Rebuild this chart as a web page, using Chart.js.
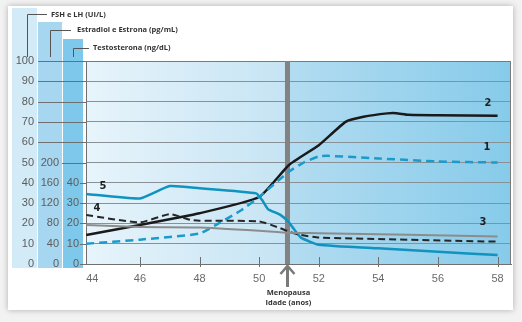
<!DOCTYPE html>
<html>
<head>
<meta charset="utf-8">
<script src="https://cdn.jsdelivr.net/npm/chart.js@4.4.1/dist/chart.umd.min.js"></script>
<style>
  html, body { margin: 0; padding: 0; background: #f2f2f2; }
  #wrap { position: relative; width: 522px; height: 322px; overflow: hidden; }
  #card { position: absolute; left: 8px; top: 6px; width: 505px; height: 304px; background: #fff;
          box-shadow: 0 0 6px rgba(0,0,0,0.28); }
  #c { position: absolute; left: 0; top: 0; }
</style>
</head>
<body>
<div id="wrap">
  <div id="card"></div>
  <canvas id="c" width="522" height="322"></canvas>
</div>
<script>
// ---- Data (age in years, values on the FSH/LH 0-100 scale) ----
const xTicks = [44, 46, 48, 50, 52, 54, 56, 58];
const menopauseAge = 50.95;

const ages1 = [44.2, 46, 48, 48.7, 49.4, 50, 51, 51.5, 52, 52.3, 54, 56, 58];
const series1 = [10, 12, 15, 20.5, 26.5, 33, 45.5, 50, 53, 53.3, 52, 50.5, 50];

const ages2 = [44.2, 46, 48, 50, 51, 52, 52.9, 53.5, 54.3, 54.6, 55, 56, 58];
const series2 = [14.3, 19.2, 25, 33, 48.8, 58.5, 70, 72.5, 74.2, 74.3, 73.5, 73.3, 73];

const ages3 = [44.2, 46, 48, 50, 51, 52, 58];
const series3 = [19.2, 18.2, 18, 16.4, 15.4, 15.2, 13.5];

const ages4 = [44.2, 46, 47, 47.7, 48, 50, 50.7, 51, 51.4, 52, 58];
const series4 = [24.1, 20.5, 24.6, 21.7, 21.3, 21, 17.7, 15.9, 14.3, 13, 11];

const ages5 = [44.2, 46, 47, 48, 49.9, 50.1, 50.3, 50.7, 51, 51.2, 51.4, 52, 54, 56, 58];
const series5 = [34.5, 32.3, 38.4, 37.3, 34.8, 31.5, 27, 24.3, 20.5, 16.5, 13, 9.5, 7.7, 6, 4.4];

// left axis columns
const fshTicks = [0, 10, 20, 30, 40, 50, 60, 70, 80, 90, 100];
const estrTicks = [0, 40, 80, 120, 160, 200];   // drawn at 0..50
const testoTicks = [0, 10, 20, 30, 40];          // drawn at 0..40

// curve number tags
const tagText = ['1', '2', '3', '4', '5'];
const tagAge = [57.64, 57.68, 57.51, 44.56, 44.76];
const tagVal = [57.6, 79.3, 20.7, 27.6, 38.4];

const pts = (xs, ys) => xs.map((x, i) => ({ x, y: ys[i] }));

const NUM_FONT = '11px "Liberation Sans", Arial, sans-serif';

// ---- Custom drawing: columns, background, menopause bar, labels ----
const decor = {
  id: 'decor',
  beforeDraw(chart) {
    const { ctx, chartArea: a, scales: { y } } = chart;
    ctx.save();
    // axis columns
    const y0 = y.getPixelForValue(0) + 4;
    ctx.fillStyle = '#d3eaf7';
    ctx.fillRect(12, 8, 25, y0 - 8);
    ctx.fillStyle = '#a7d7f0';
    ctx.fillRect(38, 22, 24, y0 - 22);
    ctx.fillStyle = '#7ec9eb';
    ctx.fillRect(63, 39, 20, y0 - 39);
    // plot background
    const g = ctx.createLinearGradient(a.left, 0, a.right, 0);
    g.addColorStop(0, '#e7f4fb');
    g.addColorStop(0.47, '#c6e4f4');
    g.addColorStop(0.48, '#b3dcf1');
    g.addColorStop(1, '#86cbea');
    ctx.fillStyle = g;
    ctx.fillRect(a.left, a.top, a.right - a.left, a.bottom - a.top);
    ctx.restore();
  },
  beforeDatasetsDraw(chart) {
    const { ctx, chartArea: a, scales: { x, y } } = chart;
    ctx.save();
    // left grid extensions
    ctx.strokeStyle = '#6f6f6f';
    ctx.lineWidth = 1;
    fshTicks.forEach(v => {
      const py = Math.round(y.getPixelForValue(v)) + 0.5;
      let from = 38;
      if (v === 50) from = 62;
      else if (v < 50) from = 80;
      ctx.beginPath();
      ctx.moveTo(from, py);
      ctx.lineTo(a.left, py);
      ctx.stroke();
    });
    // x tick marks
    xTicks.slice(1).forEach(v => {
      const px = Math.round(x.getPixelForValue(v)) + 0.5;
      ctx.beginPath();
      ctx.moveTo(px, a.bottom - 7);
      ctx.lineTo(px, a.bottom + 3);
      ctx.stroke();
    });
    // top / right border
    ctx.strokeStyle = '#7a7a7a';
    ctx.beginPath();
    ctx.moveTo(a.left, a.top + 0.5);
    ctx.lineTo(a.right - 0.5, a.top + 0.5);
    ctx.lineTo(a.right - 0.5, a.bottom);
    ctx.stroke();
    // menopause bar
    const mx = x.getPixelForValue(menopauseAge);
    ctx.fillStyle = '#828282';
    ctx.fillRect(mx - 2.5, a.top, 5, a.bottom - a.top);
    // arrow
    ctx.strokeStyle = '#7a7a7a';
    ctx.lineWidth = 3;
    ctx.beginPath();
    ctx.moveTo(mx, a.bottom + 3);
    ctx.lineTo(mx, a.bottom + 23);
    ctx.stroke();
    ctx.lineWidth = 2.5;
    ctx.beginPath();
    ctx.moveTo(mx - 7, a.bottom + 10);
    ctx.lineTo(mx, a.bottom + 2);
    ctx.lineTo(mx + 7, a.bottom + 10);
    ctx.stroke();
    ctx.restore();
  },
  afterDraw(chart) {
    const { ctx, chartArea: a, scales: { x, y } } = chart;
    ctx.save();
    // column tick labels
    ctx.font = NUM_FONT;
    ctx.fillStyle = '#5c5c5c';
    ctx.textAlign = 'right';
    ctx.textBaseline = 'middle';
    fshTicks.forEach(v => ctx.fillText(String(v), 34, y.getPixelForValue(v)));
    estrTicks.forEach((t, i) => ctx.fillText(String(t), 59, y.getPixelForValue(i * 10)));
    testoTicks.forEach((t, i) => ctx.fillText(String(t), 79, y.getPixelForValue(i * 10)));

    // column headers with leader lines
    ctx.strokeStyle = '#555';
    ctx.lineWidth = 1;
    const leaders = [[27.5, 14.5, 47, 57], [50.5, 30.5, 71, 57], [73.5, 48.5, 89, 57]];
    leaders.forEach(([lx, ly, ex, by]) => {
      ctx.beginPath();
      ctx.moveTo(ex, ly);
      ctx.lineTo(lx, ly);
      ctx.lineTo(lx, by);
      ctx.stroke();
    });
    ctx.font = 'bold 7.5px "Open Sans", sans-serif';
    ctx.fillStyle = '#333';
    ctx.textAlign = 'left';
    ctx.fillText('FSH e LH (UI/L)', 51, 14.5);
    ctx.fillText('Estradiol e Estrona (pg/mL)', 77, 30);
    ctx.fillText('Testosterona (ng/dL)', 93, 48);

    // curve numbers
    ctx.font = 'bold 11px "Liberation Sans Narrow", "DejaVu Sans Condensed", sans-serif';
    ctx.fillStyle = '#1e1e1e';
    ctx.textAlign = 'center';
    tagText.forEach((t, i) => ctx.fillText(t, x.getPixelForValue(tagAge[i]), y.getPixelForValue(tagVal[i])));

    // menopause caption
    const mx = x.getPixelForValue(menopauseAge);
    ctx.font = 'bold 7.5px "Open Sans", sans-serif';
    ctx.fillStyle = '#333';
    ctx.fillText('Menopausa', mx + 1, a.bottom + 29);
    ctx.fillText('Idade (anos)', mx + 1, a.bottom + 39);
    ctx.restore();
  }
};

const lineSet = (data, color, width, dash) => ({
  data,
  borderColor: color,
  borderWidth: width,
  borderDash: dash || [],
  pointRadius: 0,
  fill: false,
  tension: 0.15,
});

new Chart(document.getElementById('c'), {
  type: 'line',
  data: {
    datasets: [
      lineSet(pts(ages3, series3), '#8c8c8c', 2),
      lineSet(pts(ages4, series4), '#262626', 2, [7, 4]),
      lineSet(pts(ages5, series5), '#1093bf', 2.5),
      lineSet(pts(ages1, series1), '#1b9bcb', 2.5, [8, 5]),
      lineSet(pts(ages2, series2), '#1a1a1a', 2.5),
    ],
  },
  options: {
    responsive: false,
    animation: false,
    devicePixelRatio: 1,
    layout: { padding: { left: 86, right: 11, top: 61, bottom: 0 } },
    plugins: { legend: { display: false }, tooltip: { enabled: false } },
    scales: {
      x: {
        type: 'linear',
        min: 44.19,
        max: 58.45,
        afterBuildTicks: (axis) => {
          axis.ticks = xTicks.map((v, i) => ({ value: i === 0 ? v + 0.4 : v }));
        },
        afterFit: (axis) => { axis.height = 58; },
        grid: { display: false, drawTicks: false },
        border: { display: true, color: '#707070', width: 1 },
        ticks: {
          padding: 8,
          maxRotation: 0,
          autoSkip: false,
          color: '#6a6a6a',
          font: { size: 11, family: '"Liberation Sans", Arial, sans-serif' },
          callback: (v) => String(Math.round(v)),
        },
      },
      y: {
        min: 0,
        max: 100,
        afterFit: (axis) => { axis.width = 0; },
        grid: { color: '#8a9196', lineWidth: 1, drawTicks: false },
        border: { display: true, color: '#707070', width: 1 },
        ticks: { display: false, stepSize: 10 },
      },
    },
  },
  plugins: [decor],
});
</script>
</body>
</html>
